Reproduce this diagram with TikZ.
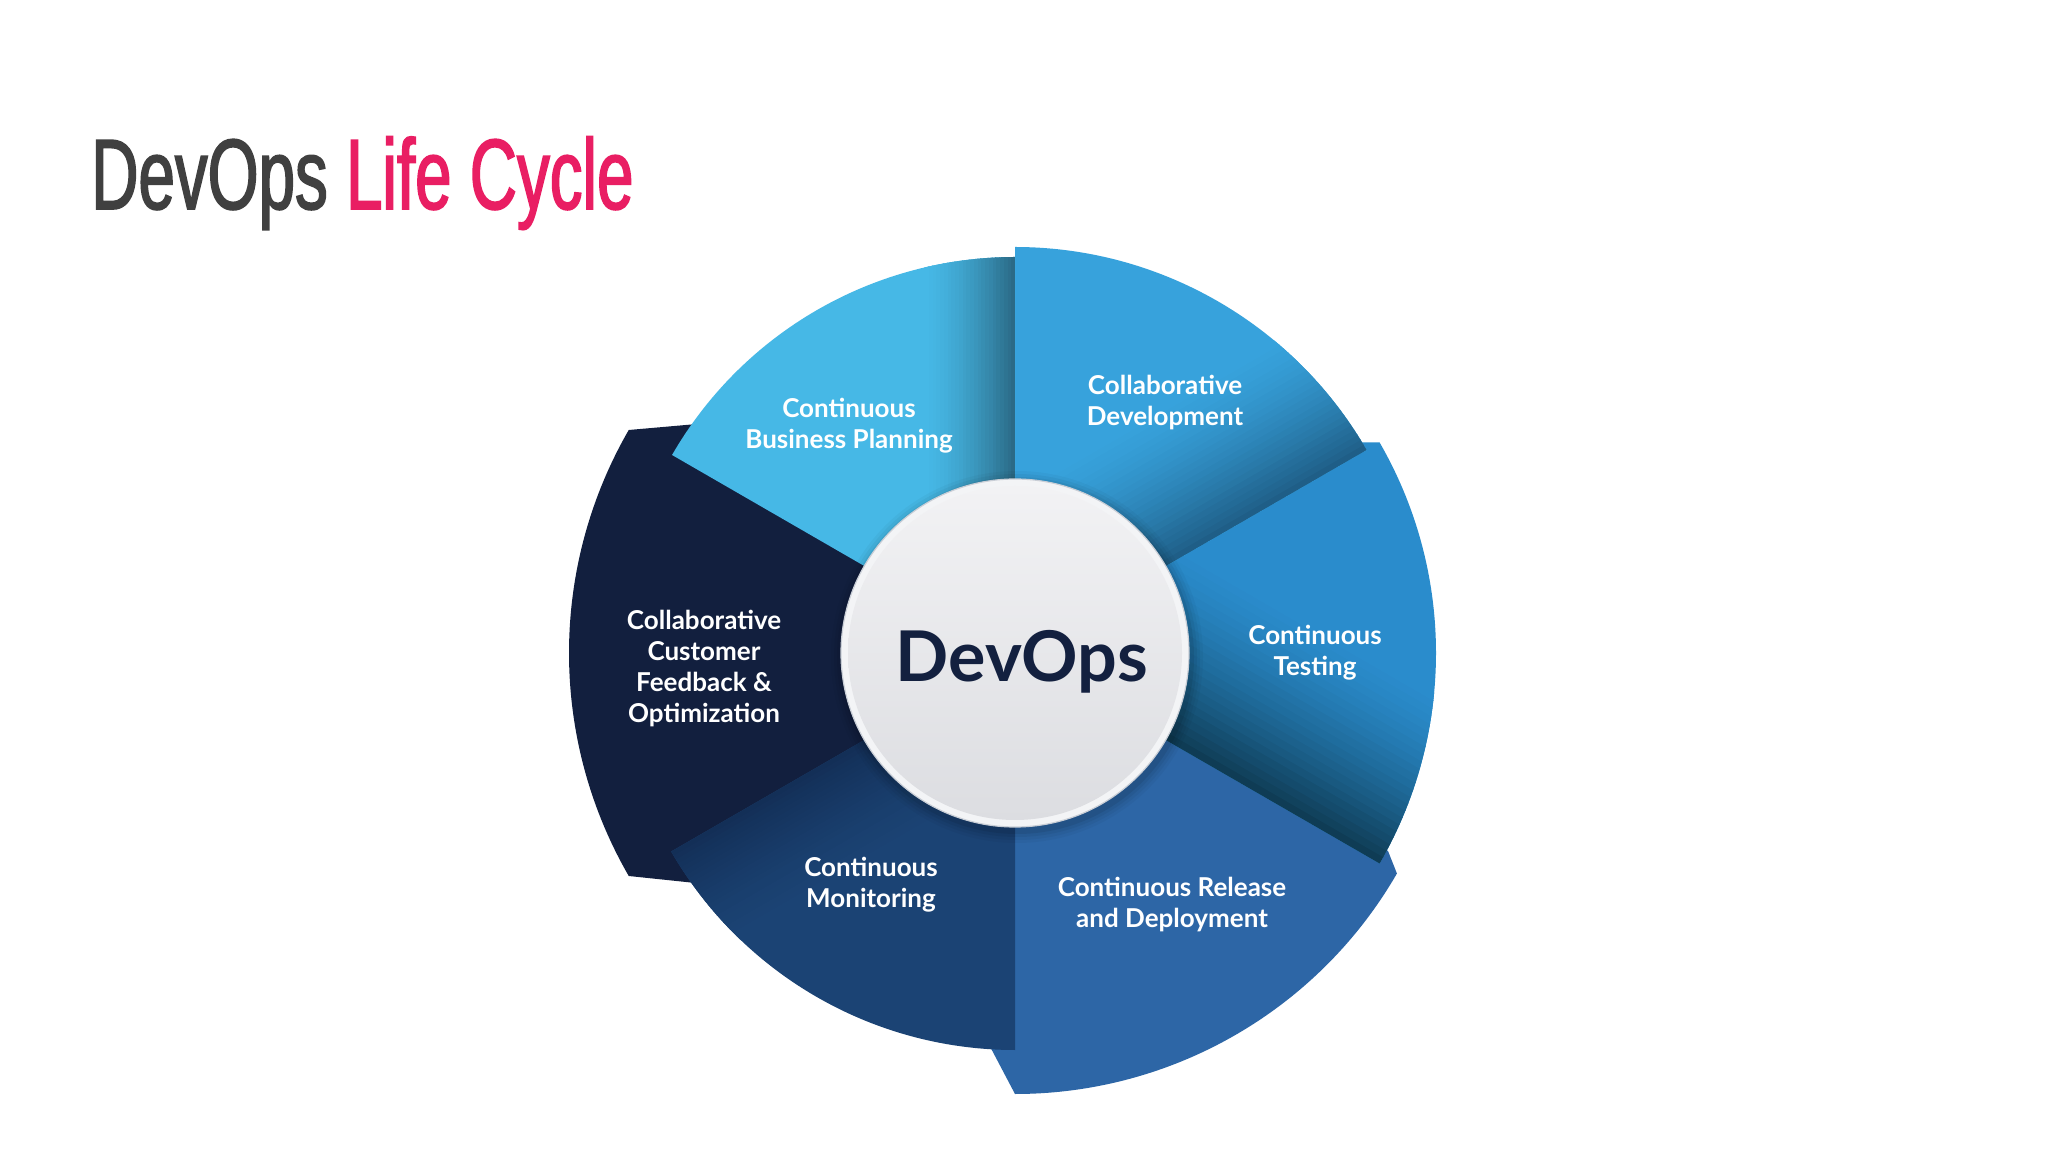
\documentclass[tikz,border=0pt]{standalone}
\usepackage{fontspec}
\newfontfamily\lato{Lato}
\newfontfamily\titlefont[FakeStretch=0.655, FakeBold=1.6]{Liberation Sans}
\definecolor{titlegray}{HTML}{404040}
\definecolor{titlepink}{HTML}{E91E63}
\definecolor{bpc}{HTML}{46B8E6}
\definecolor{bpd}{HTML}{2B6A86}
\definecolor{cdc}{HTML}{37A2DC}
\definecolor{cdd}{HTML}{1F5E87}
\definecolor{tsc}{HTML}{2A8CCC}
\definecolor{tsd}{HTML}{0F3C55}
\definecolor{rlc}{HTML}{2D66A6}
\definecolor{mnc}{HTML}{1B4374}
\definecolor{mnd}{HTML}{132F57}
\definecolor{fbc}{HTML}{121F3E}
\definecolor{corenavy}{HTML}{13203F}
\definecolor{ringc}{HTML}{F3F4F6}
\definecolor{ringedge}{HTML}{C9CED6}
\definecolor{coretop}{HTML}{F2F2F4}
\definecolor{corebot}{HTML}{DCDDE1}
\newcommand\segramp[4]{%
  \foreach \i in {0,...,23}{%
    \pgfmathtruncatemacro\p{100*(1-\i/24)^1.5}%
    \fill[#3!\p!#2, rotate=#1] (-20,{#4*\i/24}) rectangle (520,{#4*(\i+1)/24+0.8});
  }}
\tikzset{
  lbl/.style={font=\lato\bfseries\fontsize{26}{31}\selectfont, text=white, align=center, inner sep=0pt},
}
\begin{document}
\begin{tikzpicture}[x=1pt,y=1pt]
\useasboundingbox (0,0) rectangle (2048,1152);
\fill[white] (0,0) rectangle (2048,1152);
\node[anchor=base west, inner sep=0pt, font=\titlefont\fontsize{100}{100}\selectfont] (title) at (91,943)
  {\textcolor{titlegray}{DevOps} \textcolor{titlepink}{Life Cycle}};

\begin{scope}[shift={(1015,499)}]
  % Feedback (bottom layer)
  \fill[fbc] (0,0) -- (-295,231) -- (150:446) arc[start angle=150,end angle=210,radius=446] -- (-310,-231) -- cycle;
  % Release
  \fill[rlc] (0,0) -- (285,-147) -- (373,-198) -- (-30:441) arc[start angle=-30,end angle=-90,radius=441] -- (-40,-365) -- cycle;
  % Testing
  \begin{scope}
    \clip (0,0) -- (-30:421) arc[start angle=-30,end angle=30,radius=421] -- (315,210.5) -- cycle;
    \fill[tsc] (-500,-500) rectangle (500,500);
    \segramp{-30}{tsc}{tsd}{175}
  \end{scope}
  % Collaborative Development
  \begin{scope}
    \clip (0,0) -- (30:406) arc[start angle=30,end angle=90,radius=406] -- cycle;
    \fill[cdc] (-500,-500) rectangle (500,500);
    \segramp{30}{cdc}{cdd}{140}
  \end{scope}
  % Business Planning
  \begin{scope}
    \clip (0,0) -- (90:396) arc[start angle=90,end angle=150,radius=396] -- cycle;
    \fill[bpc] (-500,-500) rectangle (500,500);
    \segramp{90}{bpc}{bpd}{90}
  \end{scope}
  % Monitoring
  \begin{scope}
    \clip (0,0) -- (210:397) arc[start angle=210,end angle=270,radius=397] -- cycle;
    \fill[mnc] (-500,-500) rectangle (500,500);
    \segramp{210}{mnc}{mnd}{110}
  \end{scope}
  % centre disc
  \foreach \r/\o in {186/0.03,183/0.04,180/0.05,177/0.07}{
    \fill[black, opacity=\o] (2,-4) circle (\r);
  }
  \fill[ringc, draw=ringedge, line width=1.2pt] (0,0) circle (174);
  \shade[top color=coretop, bottom color=corebot] (0,0) circle (167);
  \node[font=\lato\bfseries\fontsize{70}{70}\selectfont, text=corenavy, anchor=base, inner sep=0pt] (core) at (7,-29) {DevOps};

  \node[lbl] (bp) at (-166,227.5) {Continuous\\Business Planning};
  \node[lbl] (cd) at (150,250.5) {Collaborative\\Development};
  \node[lbl] (ts) at (300,0) {Continuous\\Testing};
  \node[lbl] (rl) at (157,-252) {Continuous Release\\and Deployment};
  \node[lbl] (mn) at (-144,-231.5) {Continuous\\Monitoring};
  \node[lbl] (fb) at (-311,-16) {Collaborative\\Customer\\Feedback \&\\Optimization};
\end{scope}
\end{tikzpicture}
\end{document}
